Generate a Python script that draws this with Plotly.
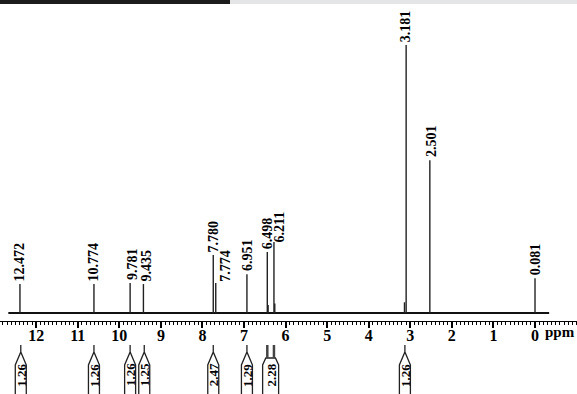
import plotly.graph_objects as go

# ---------------- data ----------------
peak_ppm = [12.39, 10.61, 9.74, 9.42, 7.74, 7.68, 6.93, 6.44, 6.28, 3.10, 2.53, 0.00]
peak_height = [10.8, 10.8, 11.2, 10.8, 21.6, 11.2, 14.5, 22.8, 26.5, 100.0, 57.0, 13.0]
peak_labels = ["12.472", "10.774", "9.781", "9.435", "7.780", "7.774",
               "6.951", "6.498", "6.211", "3.181", "2.501", "0.081"]

shoulder_ppm = [6.42, 6.26, 3.14]
shoulder_height = [3.0, 3.5, 4.0]

baseline_ppm = [12.67, -0.34]

integral_values = ["1.26", "1.26", "1.26", "1.25", "2.47", "1.29", "2.28", "1.26"]
integral_center = [12.37, 10.61, 9.74, 9.40, 7.74, 6.93, 6.36, 3.13]
integral_stems = [[12.37], [10.61], [9.74], [9.40], [7.74], [6.93], [6.44, 6.28], [3.13]]

tick_vals = [12, 11, 10, 9, 8, 7, 6, 5, 4, 3, 2, 1, 0]
tick_text = ["12", "11", "10", "9", "8", "7", "6", "5", "4", "3", "2", "1", "0"]

# ---------------- style ----------------
SERIF = "Liberation Serif"
label_dx = [0, 0, 3, 3, 0, 10, 0, 1, 6, -1, 1, 0]
label_dy = [1, 1, 1, 1, 1, -1, 1, 1, -2, 1, 1, 1]
PX_PER_PPM = 41.58
FIG_W, FIG_H = 577, 394
MB = 73
PLOT_H = FIG_H - MB


def py(px):
    """pixel row -> paper y"""
    return (PLOT_H - px) / PLOT_H


fig = go.Figure()

# baseline
fig.add_trace(go.Scatter(x=baseline_ppm, y=[0, 0], mode="lines",
                         line=dict(color="#111", width=2), hoverinfo="skip",
                         showlegend=False))

# sticks
sx, sy = [], []
for p, h in zip(peak_ppm + shoulder_ppm, peak_height + shoulder_height):
    sx += [p, p, None]
    sy += [0, h, None]
fig.add_trace(go.Scatter(x=sx, y=sy, mode="lines",
                         line=dict(color="#222", width=1.4), hoverinfo="skip",
                         showlegend=False))

annotations = []
for p, h, t, dx, dy in zip(peak_ppm, peak_height, peak_labels, label_dx, label_dy):
    annotations.append(dict(x=p, y=h, xref="x", yref="y", text=t, showarrow=False,
                            textangle=-90, xanchor="center", yanchor="bottom",
                            xshift=dx, yshift=dy,
                            font=dict(family=SERIF, size=14, color="black", weight="bold")))

annotations.append(dict(x=1, y=py(332), xref="paper", yref="paper", text="ppm",
                        showarrow=False, xanchor="right", yanchor="middle",
                        font=dict(family=SERIF, size=15, color="black", weight="bold")))

shapes = []
# top decorative band
shapes.append(dict(type="rect", xref="paper", yref="paper", x0=0, x1=230 / FIG_W,
                   y0=py(4), y1=1, fillcolor="#1c1c1c", line=dict(width=0)))
shapes.append(dict(type="rect", xref="paper", yref="paper", x0=230 / FIG_W, x1=1,
                   y0=py(4), y1=1, fillcolor="#e4e5e7", line=dict(width=0)))

# integration markers
for val, c, stems in zip(integral_values, integral_center, integral_stems):
    if len(stems) == 1:
        w = 5.5 / PX_PER_PPM
        path = (f"M {c},{py(345)} L {c},{py(352)} "
                f"M {c - w},{py(365)} L {c},{py(352)} L {c + w},{py(365)} "
                f"L {c + w},{py(410)} L {c - w},{py(410)} Z")
        shapes.append(dict(type="path", xref="x", yref="paper", path=path,
                           line=dict(color="#222", width=1.3), fillcolor="rgba(0,0,0,0)"))
    else:
        w = 8 / PX_PER_PPM
        s1, s2 = stems[0], stems[-1]
        path = (f"M {s1 + 1.5 / PX_PER_PPM},{py(358)} L {s2 - 1.5 / PX_PER_PPM},{py(358)} "
                f"L {c - w},{py(365)} L {c - w},{py(410)} L {c + w},{py(410)} "
                f"L {c + w},{py(365)} Z")
        shapes.append(dict(type="path", xref="x", yref="paper", path=path,
                           line=dict(color="#222", width=1.3), fillcolor="rgba(0,0,0,0)"))
        for s in stems:
            shapes.append(dict(type="line", xref="x", yref="paper", x0=s, x1=s,
                               y0=py(345), y1=py(358), line=dict(color="#444", width=2.5)))
    annotations.append(dict(x=c, y=py(375), xref="x", yref="paper", text=val,
                            showarrow=False, textangle=-90, xanchor="center",
                            yanchor="middle",
                            font=dict(family=SERIF, size=13, color="black", weight="bold")))

fig.update_layout(
    width=FIG_W, height=FIG_H,
    margin=dict(l=0, r=0, t=0, b=MB),
    paper_bgcolor="white", plot_bgcolor="white",
    showlegend=False,
    annotations=annotations, shapes=shapes,
    xaxis=dict(range=[12.87, -1.01], showgrid=False, zeroline=False,
               showline=True, linecolor="black", linewidth=1,
               tickmode="array", tickvals=tick_vals, ticktext=tick_text,
               ticks="outside", ticklen=6, tickwidth=1.5, tickcolor="black",
               ticklabelstandoff=-6,
               minor=dict(dtick=0.1, tick0=0, ticks="outside", ticklen=3,
                          tickwidth=1, tickcolor="black"),
               tickfont=dict(family=SERIF, size=16, color="black", weight="bold"),
               fixedrange=True),
    yaxis=dict(range=[-2.985, 116.8], visible=False, fixedrange=True),
)

fig.write_html("out.html", config={"displayModeBar": False},
               post_script="document.body.style.margin='0';document.body.style.overflow='hidden';")
